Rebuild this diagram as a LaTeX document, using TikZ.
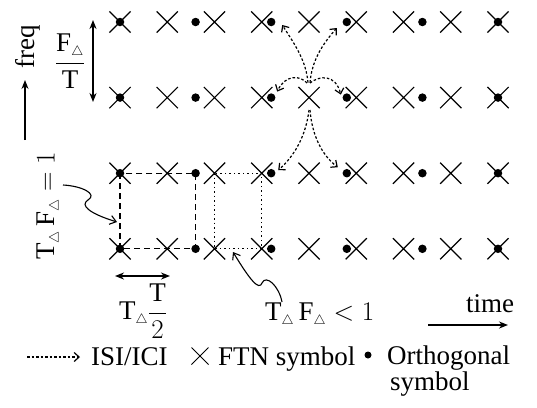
\documentclass[tikz,border=0pt]{standalone}
\usepackage{fix-cm}
\usepackage{fontspec}
\setmainfont{Liberation Serif}
\usetikzlibrary{arrows.meta}
\usetikzlibrary{calc}
\usetikzlibrary{shapes.misc}
\newcommand{\dlt}{_{\scriptscriptstyle\triangle}}

\begin{document}
\begin{tikzpicture}[x=1pt,y=-1pt,>={Stealth[length=9pt,width=7pt]},
    font=\fontsize{27}{23}\selectfont,inner sep=1pt,
    ftn/.style={cross out,draw,line width=1.2pt,minimum size=20pt,inner sep=0pt},
    orth/.style={circle,fill,minimum size=8.5pt,inner sep=0pt},
    isi/.style={line width=1.2pt,dash pattern=on 2.5pt off 2pt,-{Straight Barb[length=5pt,width=9pt]}},
    wiggle/.style={line width=1.1pt,-{Straight Barb[length=6pt,width=9pt]}},
    orthcell/.style={line width=1.2pt,dash pattern=on 6pt off 4pt},
    ftncell/.style={line width=1.2pt,dash pattern=on 1.5pt off 3pt}]
                \useasboundingbox (0,0) rectangle (537,407);

                \foreach \r in {0,...,3}{
                    \foreach \k in {0,...,8}
                        \node[ftn] (x\k-\r) at (120+47.25*\k, 22+75.6*\r) {};
                    \foreach \m in {0,...,5}
                        \node[orth] (o\m-\r) at (120+75.6*\m, 22+75.6*\r) {};
                }

                \draw[orthcell] (o0-2.center) rectangle (o1-3.center);
                \draw[ftncell] (x2-2.center) rectangle (x3-3.center);

                \draw[isi] ($(x4-1.center)+(-1,-15)$) .. controls +(-2,-22) and +(13,20) .. ($(o2-0.center)+(11,3)$);
                \draw[isi] ($(x4-1.center)+(1,-15)$) .. controls +(2,-22) and +(-15,17) .. ($(o3-0.center)+(-10,6)$);
                \draw[isi] ($(x4-1.center)+(-2,-14.6)$) .. controls +(-7,-8) and +(8,-17) .. ($(o2-1.center)+(6,-6)$);
                \draw[isi] ($(x4-1.center)+(1,-14.6)$) .. controls +(10,-8) and +(-5,-20) .. ($(o3-1.center)+(-6,-3)$);
                \draw[isi] ($(x4-1.center)+(0,12.4)$) .. controls +(-3,25) and +(17,-15) .. ($(o2-2.center)+(7,-3)$);
                \draw[isi] ($(x4-1.center)+(1,12.4)$) .. controls +(2,25) and +(-16,-12) .. ($(o3-2.center)+(-9,-6)$);

                \coordinate (freqA) at (25,140);
                \coordinate (freqB) at (25,80);
                \draw[->,line width=1.3pt] (freqA) -- (freqB);
                \node[rotate=90] (freq) at (28,47) {freq};

                \coordinate (fdTop) at (93,20);
                \coordinate (fdBot) at (93,102);
                \draw[<->,line width=1.8pt] (fdTop) -- (fdBot);
                \node (fdLabel) at (70,61) {$\displaystyle\frac{\mathrm{F}\dlt}{\mathrm{T}}$};

                \node[rotate=90] (unitLabel) at (49,206) {$\mathrm{T}\dlt\,\mathrm{F}\dlt = 1$};
                \coordinate (w1s) at (63,185);
                \coordinate (w1m) at (88,200);
                \coordinate (w1e) at (117,222);
                \draw[wiggle] (w1s) .. controls +(19,1) and +(10,-6) .. (w1m) .. controls +(-8,5) and +(-29,-9) .. (w1e);

                \coordinate (tdL) at (115,276);
                \coordinate (tdR) at (170,276);
                \draw[<->,line width=1.8pt] (tdL) -- (tdR);
                \node (tdLabel) at (143,311) {$\mathrm{T}\dlt\displaystyle\frac{\mathrm{T}}{2}$};

                \node[anchor=base west] (ftnLabel) at (264,320) {$\mathrm{T}\dlt\,\mathrm{F}\dlt < 1$};
                \coordinate (w2s) at (282,302);
                \coordinate (w2m) at (262,283);
                \coordinate (w2e) at (233,252);
                \draw[wiggle] (w2s) .. controls +(-3,-16) and +(4,-9) .. (w2m) .. controls +(-3,8) and +(17,28) .. (w2e);

                \coordinate (timeA) at (428,325);
                \coordinate (timeB) at (508,325);
                \draw[->,line width=2.2pt] (timeA) -- (timeB);
                \node[anchor=base west] (time) at (465,312) {time};

                \coordinate (legA) at (27,357);
                \coordinate (legB) at (80,357);
                \draw[isi] (legA) -- (legB);
                \node[anchor=base west] (isiText) at (90,365) {ISI/ICI};
                \node[ftn,minimum size=16pt,line width=1pt] (ftnSym) at (200,356) {};
                \node[anchor=base west] (ftnText) at (217,365) {FTN symbol};
                \node[orth,minimum size=7pt] (orthSym) at (368,355) {};
                \node[anchor=base west] (orthText) at (386,364) {Orthogonal};
                \node[anchor=base west] (orthText2) at (389,390) {symbol};
            \end{tikzpicture}
\end{document}
